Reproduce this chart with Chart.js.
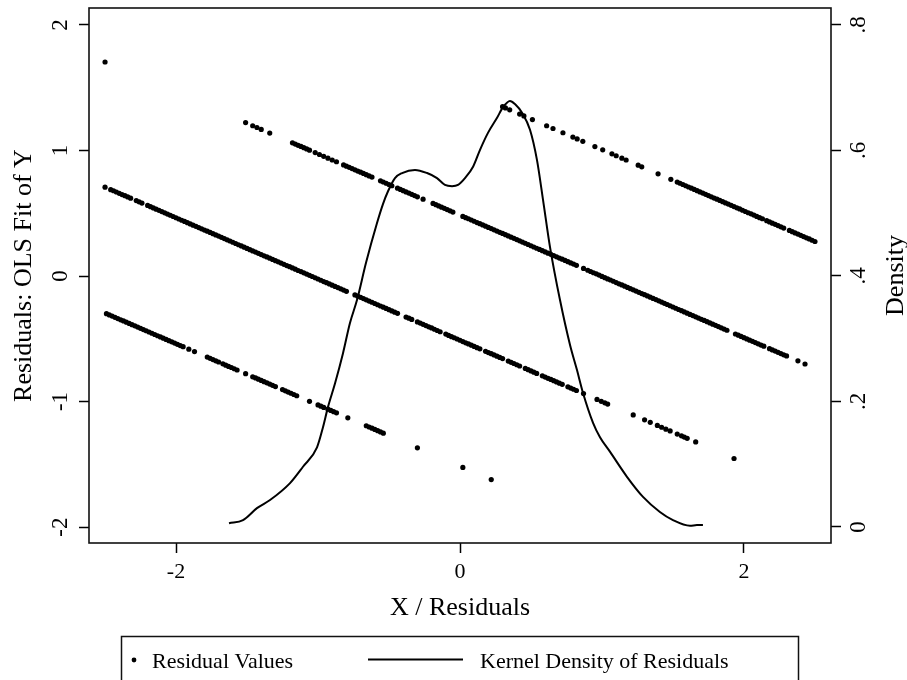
<!DOCTYPE html>
<html>
<head>
<meta charset="utf-8">
<script src="https://cdn.jsdelivr.net/npm/chart.js@4.4.0/dist/chart.umd.min.js"></script>
<style>
  html, body { margin: 0; padding: 0; background: #ffffff; }
  #wrap { width: 907px; height: 680px; position: relative; }
</style>
</head>
<body>
<div id="wrap"><canvas id="c" width="907" height="680"></canvas></div>
<script>
// ---------------- data ----------------
// Residual values (X, residual) grouped by the four visible bands
const residualsA = [
[-2.49,-0.300],[-2.47,-0.310],[-2.45,-0.319],[-2.43,-0.329],[-2.41,-0.339],[-2.39,-0.349],[-2.37,-0.358],[-2.35,-0.368],[-2.33,-0.378],[-2.31,-0.388],
[-2.29,-0.397],[-2.27,-0.407],[-2.25,-0.417],[-2.23,-0.427],[-2.21,-0.436],[-2.19,-0.446],[-2.17,-0.456],[-2.15,-0.466],[-2.13,-0.476],[-2.11,-0.485],
[-2.09,-0.495],[-2.07,-0.505],[-2.05,-0.515],[-2.03,-0.524],[-2.01,-0.534],[-1.99,-0.544],[-1.97,-0.554],[-1.95,-0.563],
[-1.91,-0.583],[-1.87,-0.602],
[-1.78,-0.646],[-1.76,-0.656],[-1.74,-0.666],[-1.72,-0.676],[-1.70,-0.685],
[-1.67,-0.700],[-1.65,-0.710],[-1.63,-0.720],[-1.61,-0.729],[-1.59,-0.739],[-1.57,-0.749],
[-1.51,-0.778],
[-1.46,-0.803],[-1.44,-0.812],[-1.42,-0.822],[-1.40,-0.832],[-1.38,-0.842],[-1.36,-0.851],[-1.34,-0.861],[-1.32,-0.871],[-1.30,-0.881],
[-1.25,-0.905],[-1.23,-0.915],[-1.21,-0.925],[-1.19,-0.934],[-1.17,-0.944],[-1.15,-0.954],
[-1.06,-0.998],
[-1.00,-1.027],[-0.98,-1.037],[-0.96,-1.047],
[-0.93,-1.061],[-0.91,-1.071],[-0.89,-1.081],[-0.87,-1.090],
[-0.79,-1.130],
[-0.66,-1.193],[-0.64,-1.203],[-0.62,-1.212],[-0.60,-1.222],[-0.58,-1.232],[-0.56,-1.242],[-0.54,-1.252],
[-0.30,-1.369],[0.02,-1.525],[0.22,-1.622]
];
const residualsB = [
[-2.50,0.708],
[-2.46,0.688],[-2.44,0.679],[-2.42,0.669],[-2.40,0.659],[-2.38,0.649],[-2.36,0.640],[-2.34,0.630],[-2.32,0.620],
[-2.28,0.601],[-2.26,0.591],[-2.24,0.581],
[-2.20,0.562],[-2.18,0.552],[-2.16,0.542],[-2.14,0.532],[-2.12,0.523],[-2.10,0.513],
[-2.08,0.503],[-2.06,0.493],[-2.04,0.484],[-2.02,0.474],[-2.00,0.464],[-1.98,0.454],[-1.96,0.444],[-1.94,0.435],[-1.92,0.425],[-1.90,0.415],[-1.88,0.405],[-1.86,0.396],[-1.84,0.386],[-1.82,0.376],
[-1.80,0.366],[-1.78,0.357],[-1.76,0.347],[-1.74,0.337],[-1.72,0.327],[-1.70,0.318],[-1.68,0.308],[-1.66,0.298],[-1.64,0.288],[-1.62,0.279],
[-1.60,0.269],[-1.58,0.259],[-1.56,0.249],[-1.54,0.240],[-1.52,0.230],[-1.50,0.220],[-1.48,0.210],[-1.46,0.200],[-1.44,0.191],[-1.42,0.181],
[-1.40,0.171],[-1.38,0.161],[-1.36,0.152],[-1.34,0.142],[-1.32,0.132],[-1.30,0.122],[-1.28,0.113],[-1.26,0.103],[-1.24,0.093],[-1.22,0.083],
[-1.20,0.074],[-1.18,0.064],[-1.16,0.054],[-1.14,0.044],[-1.12,0.035],[-1.10,0.025],[-1.08,0.015],[-1.06,0.005],[-1.04,-0.004],[-1.02,-0.014],
[-1.00,-0.024],[-0.98,-0.034],[-0.96,-0.044],[-0.94,-0.053],[-0.92,-0.063],[-0.90,-0.073],[-0.88,-0.083],[-0.86,-0.092],[-0.84,-0.102],[-0.82,-0.112],
[-0.80,-0.122],
[-0.74,-0.151],[-0.72,-0.161],[-0.70,-0.170],[-0.68,-0.180],[-0.66,-0.190],[-0.64,-0.200],[-0.62,-0.209],[-0.60,-0.219],[-0.58,-0.229],[-0.56,-0.239],
[-0.54,-0.248],[-0.52,-0.258],[-0.50,-0.268],[-0.48,-0.278],[-0.46,-0.288],[-0.44,-0.297],
[-0.38,-0.327],[-0.36,-0.336],[-0.34,-0.346],
[-0.30,-0.366],[-0.28,-0.375],[-0.26,-0.385],[-0.24,-0.395],[-0.22,-0.405],[-0.20,-0.414],[-0.18,-0.424],[-0.16,-0.434],[-0.14,-0.444],
[-0.10,-0.463],[-0.08,-0.473],[-0.06,-0.483],[-0.04,-0.492],[-0.02,-0.502],[0.00,-0.512],
[0.02,-0.522],[0.04,-0.532],[0.06,-0.541],[0.08,-0.551],[0.10,-0.561],[0.12,-0.571],[0.14,-0.580],
[0.18,-0.600],[0.20,-0.610],[0.22,-0.619],[0.24,-0.629],[0.26,-0.639],[0.28,-0.649],[0.30,-0.658],
[0.34,-0.678],[0.36,-0.688],[0.38,-0.697],[0.40,-0.707],[0.42,-0.717],
[0.46,-0.736],[0.48,-0.746],[0.50,-0.756],[0.52,-0.766],[0.54,-0.776],
[0.58,-0.795],[0.60,-0.805],[0.62,-0.815],[0.64,-0.824],[0.66,-0.834],[0.68,-0.844],[0.70,-0.854],[0.72,-0.863],
[0.76,-0.883],[0.78,-0.893],[0.80,-0.902],[0.82,-0.912],
[0.87,-0.937],[0.965,-0.983],[0.995,-0.998],[1.02,-1.010],[1.04,-1.020],
[1.22,-1.107],[1.30,-1.146],[1.34,-1.166],[1.39,-1.190],[1.42,-1.205],[1.45,-1.220],[1.48,-1.234],
[1.53,-1.259],[1.56,-1.273],[1.58,-1.283],[1.60,-1.293],[1.66,-1.322],[1.93,-1.454]
];
const residualsC = [
[-2.50,1.705],
[-1.51,1.222],[-1.46,1.197],[-1.43,1.183],[-1.40,1.168],[-1.34,1.139],
[-1.18,1.061],[-1.16,1.051],[-1.14,1.041],[-1.12,1.032],[-1.10,1.022],[-1.08,1.012],[-1.06,1.002],
[-1.02,0.983],[-0.99,0.968],[-0.96,0.953],[-0.93,0.939],[-0.90,0.924],[-0.87,0.910],
[-0.82,0.885],[-0.80,0.875],[-0.78,0.866],[-0.76,0.856],[-0.74,0.846],[-0.72,0.836],[-0.70,0.827],[-0.68,0.817],[-0.66,0.807],[-0.64,0.797],[-0.62,0.788],
[-0.56,0.758],[-0.54,0.749],[-0.52,0.739],[-0.50,0.729],[-0.48,0.719],
[-0.44,0.700],[-0.42,0.690],[-0.40,0.680],[-0.38,0.670],[-0.36,0.661],[-0.34,0.651],[-0.32,0.641],[-0.30,0.631],
[-0.26,0.612],
[-0.19,0.578],[-0.17,0.568],[-0.15,0.558],[-0.13,0.548],[-0.11,0.539],[-0.09,0.529],[-0.07,0.519],[-0.05,0.509],
[0.02,0.475],[0.04,0.465],[0.06,0.456],[0.08,0.446],[0.10,0.436],[0.12,0.426],[0.14,0.417],[0.16,0.407],[0.18,0.397],[0.20,0.387],[0.22,0.378],[0.24,0.368],[0.26,0.358],
[0.28,0.348],[0.30,0.339],[0.32,0.329],[0.34,0.319],[0.36,0.309],[0.38,0.300],[0.40,0.290],[0.42,0.280],[0.44,0.270],[0.46,0.261],
[0.48,0.251],[0.50,0.241],[0.52,0.231],[0.54,0.221],[0.56,0.212],[0.58,0.202],[0.60,0.192],[0.62,0.182],[0.64,0.173],[0.66,0.163],
[0.68,0.153],[0.70,0.143],[0.72,0.134],[0.74,0.124],[0.76,0.114],[0.78,0.104],[0.80,0.095],[0.82,0.085],
[0.87,0.060],
[0.90,0.046],[0.92,0.036],[0.94,0.026],[0.96,0.017],[0.98,0.007],[1.00,-0.003],[1.02,-0.013],[1.04,-0.023],[1.06,-0.032],[1.08,-0.042],
[1.10,-0.052],[1.12,-0.062],[1.14,-0.071],[1.16,-0.081],[1.18,-0.091],[1.20,-0.101],[1.22,-0.110],[1.24,-0.120],[1.26,-0.130],[1.28,-0.140],
[1.30,-0.149],[1.32,-0.159],[1.34,-0.169],[1.36,-0.179],[1.38,-0.188],[1.40,-0.198],[1.42,-0.208],[1.44,-0.218],[1.46,-0.227],[1.48,-0.237],
[1.50,-0.247],[1.52,-0.257],[1.54,-0.267],[1.56,-0.276],[1.58,-0.286],[1.60,-0.296],[1.62,-0.306],[1.64,-0.315],[1.66,-0.325],[1.68,-0.335],
[1.70,-0.345],[1.72,-0.354],[1.74,-0.364],[1.76,-0.374],[1.78,-0.384],[1.80,-0.393],[1.82,-0.403],[1.84,-0.413],[1.86,-0.423],[1.88,-0.432],
[1.94,-0.462],[1.96,-0.471],[1.98,-0.481],[2.00,-0.491],[2.02,-0.501],[2.04,-0.511],[2.06,-0.520],[2.08,-0.530],[2.10,-0.540],[2.12,-0.550],[2.14,-0.559],
[2.18,-0.579],[2.20,-0.589],[2.22,-0.598],[2.24,-0.608],[2.26,-0.618],[2.28,-0.628],[2.30,-0.637],
[2.38,-0.676],[2.43,-0.701]
];
const residualsD = [
[0.30,1.349],[0.32,1.339],[0.35,1.324],[0.42,1.290],[0.45,1.275],[0.51,1.246],[0.61,1.197],[0.655,1.175],[0.725,1.141],
[0.795,1.107],[0.825,1.092],[0.865,1.073],[0.95,1.031],[1.005,1.005],[1.07,0.973],[1.10,0.958],[1.14,0.939],[1.17,0.924],
[1.255,0.883],[1.28,0.870],[1.395,0.814],[1.485,0.770],
[1.53,0.748],[1.55,0.739],[1.57,0.729],[1.59,0.719],[1.61,0.709],[1.63,0.700],[1.65,0.690],[1.67,0.680],[1.69,0.670],[1.71,0.661],
[1.73,0.651],[1.75,0.641],[1.77,0.631],[1.79,0.621],[1.81,0.612],[1.83,0.602],[1.85,0.592],[1.87,0.582],[1.89,0.573],[1.91,0.563],
[1.93,0.553],[1.95,0.543],[1.97,0.534],[1.99,0.524],[2.01,0.514],[2.03,0.504],[2.05,0.495],[2.07,0.485],[2.09,0.475],[2.11,0.465],[2.13,0.456],
[2.16,0.441],[2.18,0.431],[2.20,0.421],[2.22,0.412],[2.24,0.402],[2.26,0.392],[2.28,0.382],
[2.32,0.363],[2.34,0.353],[2.36,0.343],[2.38,0.334],[2.40,0.324],[2.42,0.314],[2.44,0.304],[2.46,0.295],[2.48,0.285],[2.50,0.275]
];

// Kernel density of residuals (right axis)
const kdeX = [-1.627,-1.528,-1.430,-1.338,-1.197,-1.106,-1.007,-0.965,-0.930,-0.880,-0.824,-0.775,-0.725,-0.662,-0.585,-0.542,-0.507,-0.458,-0.408,
  -0.317,-0.232,-0.162,-0.106,-0.056,-0.014,0.035,0.092,0.141,0.197,0.261,0.303,0.352,0.387,0.437,0.493,0.542,0.585,0.634,0.704,
  0.775,0.824,0.866,0.937,0.986,1.056,1.176,1.289,1.408,1.500,1.620,1.669,1.711];
const kdeY = [0.006,0.011,0.030,0.043,0.070,0.096,0.127,0.159,0.191,0.229,0.277,0.325,0.362,0.421,0.484,0.515,0.535,0.556,0.564,
  0.569,0.564,0.556,0.545,0.543,0.545,0.556,0.574,0.601,0.628,0.652,0.669,0.679,0.674,0.660,0.633,0.585,0.521,0.446,0.362,
  0.290,0.250,0.214,0.166,0.143,0.120,0.080,0.048,0.024,0.011,0.002,0.003,0.003];

// Ticks and labels
const xTicks = [-2, 0, 2];
const yTicks = [-2, -1, 0, 1, 2];
const densityTicks = [0, 0.2, 0.4, 0.6, 0.8];
const densityTickLabels = ['0', '.2', '.4', '.6', '.8'];
const xTitle = 'X / Residuals';
const yTitle = 'Residuals: OLS Fit of Y';
const y2Title = 'Density';
const legendLabels = ['Residual Values', 'Kernel Density of Residuals'];

// ---------------- chart ----------------
const FONT = "'Liberation Serif', 'Times New Roman', serif";
const toPts = arr => arr.map(p => ({ x: p[0], y: p[1] }));
const residualPoints = [].concat(toPts(residualsA), toPts(residualsB), toPts(residualsC), toPts(residualsD));
const kdePoints = kdeX.map((x, i) => ({ x: x, y: kdeY[i] }));

const setTicks = vals => scale => { scale.ticks = vals.map(v => ({ value: v })); };
const noPad = scale => { scale.paddingTop = 0; scale.paddingBottom = 0; scale.paddingLeft = 0; scale.paddingRight = 0; };

const extrasPlugin = {
  id: 'extras',
  afterDraw(chart) {
    const { ctx, chartArea: a } = chart;
    ctx.save();
    // plot frame
    ctx.strokeStyle = '#111';
    ctx.lineWidth = 1.6;
    ctx.strokeRect(a.left, a.top, a.right - a.left, a.bottom - a.top);
    // right-axis title
    ctx.fillStyle = '#000';
    ctx.font = '26px ' + FONT;
    ctx.textAlign = 'center';
    ctx.textBaseline = 'middle';
    ctx.save();
    ctx.translate(896, (a.top + a.bottom) / 2);
    ctx.rotate(-Math.PI / 2);
    ctx.fillText(y2Title, 0, 0);
    ctx.restore();
    // legend box
    ctx.strokeStyle = '#111';
    ctx.lineWidth = 1.5;
    ctx.strokeRect(121.5, 636.5, 677, 80);
    ctx.fillStyle = '#000';
    ctx.beginPath();
    ctx.arc(134, 660, 2.4, 0, Math.PI * 2);
    ctx.fill();
    ctx.font = '22px ' + FONT;
    ctx.textAlign = 'left';
    ctx.textBaseline = 'alphabetic';
    ctx.fillText(legendLabels[0], 152, 668);
    ctx.beginPath();
    ctx.lineWidth = 2;
    ctx.strokeStyle = '#000';
    ctx.moveTo(368, 659.5);
    ctx.lineTo(463, 659.5);
    ctx.stroke();
    ctx.fillText(legendLabels[1], 480, 668);
    ctx.restore();
  }
};

new Chart(document.getElementById('c').getContext('2d'), {
  type: 'scatter',
  data: {
    datasets: [
      {
        label: legendLabels[0],
        data: residualPoints,
        yAxisID: 'y',
        pointRadius: 2.6,
        pointHoverRadius: 2.6,
        pointBackgroundColor: '#000',
        pointBorderColor: '#000',
        pointBorderWidth: 0,
        showLine: false
      },
      {
        label: legendLabels[1],
        data: kdePoints,
        yAxisID: 'y1',
        showLine: true,
        borderColor: '#000',
        borderWidth: 2,
        pointRadius: 0,
        cubicInterpolationMode: 'monotone',
        fill: false
      }
    ]
  },
  options: {
    responsive: false,
    animation: false,
    devicePixelRatio: 1,
    layout: { padding: { top: 8, left: 0, right: 0, bottom: 0 } },
    plugins: { legend: { display: false }, tooltip: { enabled: false } },
    scales: {
      x: {
        type: 'linear', position: 'bottom',
        min: -2.613, max: 2.613,
        afterBuildTicks: setTicks(xTicks),
        afterFit: s => { s.height = 137; noPad(s); },
        ticks: { color: '#000', font: { family: FONT, size: 22 }, padding: 6, minRotation: 0, maxRotation: 0 },
        grid: { drawOnChartArea: false, drawTicks: true, tickLength: 10, tickColor: '#000', tickWidth: 1.5 },
        border: { display: false },
        title: { display: true, text: xTitle, color: '#000', font: { family: FONT, size: 26 }, padding: { top: 0, bottom: 56 } }
      },
      y: {
        type: 'linear', position: 'left',
        min: -2.127, max: 2.135,
        afterBuildTicks: setTicks(yTicks),
        afterFit: s => { s.width = 89; noPad(s); },
        ticks: { color: '#000', font: { family: FONT, size: 23 }, padding: 8, minRotation: 90, maxRotation: 90, crossAlign: 'center' },
        grid: { drawOnChartArea: false, drawTicks: true, tickLength: 10, tickColor: '#000', tickWidth: 1.5 },
        border: { display: false },
        title: { display: true, text: yTitle, color: '#000', font: { family: FONT, size: 26 }, padding: { top: 9, bottom: 0 } }
      },
      y1: {
        type: 'linear', position: 'right',
        min: -0.0255, max: 0.827,
        afterBuildTicks: setTicks(densityTicks),
        afterFit: s => { s.width = 76; noPad(s); },
        ticks: {
          color: '#000', font: { family: FONT, size: 23 }, padding: 9, minRotation: 90, maxRotation: 90, crossAlign: 'center',
          callback: v => densityTickLabels[densityTicks.findIndex(t => Math.abs(t - v) < 1e-9)]
        },
        grid: { drawOnChartArea: false, drawTicks: true, tickLength: 10, tickColor: '#000', tickWidth: 1.5 },
        border: { display: false },
        title: { display: false }
      }
    }
  },
  plugins: [extrasPlugin]
});
</script>
</body>
</html>
